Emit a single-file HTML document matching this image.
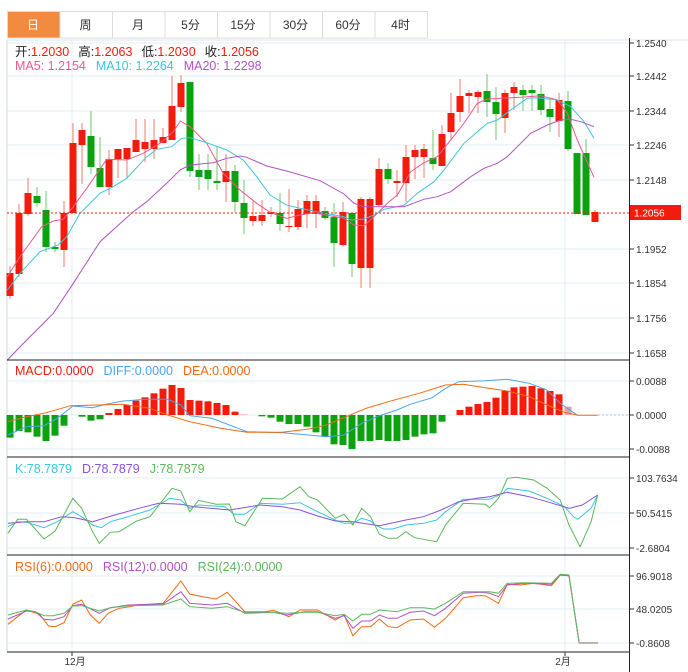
<!DOCTYPE html>
<html><head><meta charset="utf-8"><style>
body{margin:0;background:#fff;width:688px;height:672px;overflow:hidden;font-family:"Liberation Sans","Noto Sans CJK SC",sans-serif;}
svg{position:absolute;left:0;top:0}
</style></head><body>
<svg id="s" width="688" height="672" xmlns="http://www.w3.org/2000/svg" font-family="Liberation Sans, Noto Sans CJK SC, sans-serif"></svg>
<script>
var S=document.getElementById('s'),h='';
function L(x1,y1,x2,y2,c,w,extra){h+='<line x1="'+x1+'" y1="'+y1+'" x2="'+x2+'" y2="'+y2+'" stroke="'+c+'" stroke-width="'+(w||1)+'" '+(extra||'')+'/>';}
function R(x,y,w,hh,c){h+='<rect x="'+x+'" y="'+y+'" width="'+w+'" height="'+hh+'" fill="'+c+'"/>';}
function T(x,y,t,c,s,a){h+='<text x="'+x+'" y="'+y+'" fill="'+c+'" font-size="'+(s||11)+'" '+(a||'')+'>'+t+'</text>';}
function P(pts,c,fx,fy,ox,oy,w){var d=pts.map(function(p,i){return (i?'L':'M')+(ox+p[0]/fx).toFixed(1)+' '+(oy+p[1]/fy).toFixed(1)}).join(' ');h+='<path d="'+d+'" fill="none" stroke="'+c+'" stroke-width="'+(w||1)+'"/>';}
var tabs=['日','周','月','5分','15分','30分','60分','4时'];
for(var i=0;i<8;i++){var x=7+i*52.5;if(i==0)R(x,11,52.5,27,'#f28b3f');h+='<rect x="'+(x+0.5)+'" y="11.5" width="52.5" height="26.5" fill="none" stroke="#dcdcdc"/>';T(x+26,29,tabs[i],i==0?'#fff':'#333',12,'text-anchor="middle"');}
var gy=[43,76,111,145,180,249,283,318,353];
gy.forEach(function(y){L(7,y,630,y,'#e3edf3');});
[381,415,449,478,513,548,576,609,643].forEach(function(y){L(7,y,630,y,'#e3edf3');});
L(72,40,72,652,'#e3edf3');L(565,40,565,652,'#e3edf3');
L(7,40,688,40,'#dde6ee');
L(7,40,7,652,'#cfd8df');
var al=[[43,'1.2540'],[76,'1.2442'],[111,'1.2344'],[145,'1.2246'],[180,'1.2148'],[249,'1.1952'],[283,'1.1854'],[318,'1.1756'],[353,'1.1658'],[381,'0.0088'],[415,'0.0000'],[449,'-0.0088'],[478,'103.7634'],[513,'50.5415'],[548,'-2.6804'],[576,'96.9018'],[609,'48.0205'],[643,'-0.8608']];
al.forEach(function(a){L(630,a[0],634,a[0],'#333');T(636,a[0]+4,a[1],'#333',10);});
var C=[[273,296,266,299,1],[213,274,204,277,1],[193,214,178,216,1],[196,203,187,207,0],[210,247,191,252,0],[247,249,242,252,0],[213,250,201,267,1],[143,213,123,213,1],[130,145,123,184,1],[136,167,111,174,0],[168,187,137,187,0],[159,187,150,195,1],[149,159,149,178,1],[148,159,148,178,1],[140,152,119,152,1],[142,149,119,162,1],[140,149,119,159,1],[137,143,128,143,1],[106,140,76,140,1],[83,107,75,112,1],[82,171,82,177,0],[170,177,154,190,0],[170,179,154,190,0],[181,183,146,190,0],[171,182,154,202,1],[171,202,165,212,0],[203,218,180,234,0],[216,221,200,226,1],[215,221,200,226,1],[212,214,207,217,1],[213,224,193,231,0],[226,227,189,232,1],[209,227,200,230,1],[201,214,195,228,1],[201,214,195,228,1],[211,218,207,220,0],[217,243,203,267,0],[212,245,202,247,1],[213,264,213,277,0],[199,268,197,288,1],[199,268,197,288,1],[169,205,158,207,1],[169,179,163,184,0],[181,183,170,197,1],[157,183,145,202,1],[150,157,145,179,1],[149,157,144,178,1],[158,164,130,170,0],[134,166,125,166,1],[113,132,93,140,1],[96,112,79,122,1],[93,96,90,113,1],[92,97,90,113,1],[91,102,74,117,0],[102,114,87,140,0],[93,118,90,133,1],[87,93,82,110,1],[90,95,85,111,0],[90,93,85,111,0],[94,110,85,115,0],[109,117,100,132,0],[100,121,93,137,1],[101,149,91,151,0],[153,214,153,214,0],[153,215,139,215,0],[212,222,210,222,1]];
C.forEach(function(c,i){var x=10+9*i,col=c[4]?'#f31b0b':'#0ba10f',wc=c[4]?'#f77a70':'#6cc86e';L(x,c[2],x,c[3],wc);R(x-3.5,c[0],7,Math.max(1,c[1]-c[0]),col);});
P([[22,650],[60,590],[125,500],[160,483],[190,478],[220,440],[260,385],[320,298],[380,300],[430,280],[480,250],[520,215],[541,183],[570,200],[620,250],[670,340],[720,390],[770,430],[810,457],[860,475],[900,465],[940,458],[1032,475]],'#ee5a8c',3,3,0,60);
P([[0,475],[30,495],[60,497],[90,470],[130,430],[160,405],[200,335],[240,308],[280,290],[320,240],[360,190],[400,130],[430,117],[470,115],[530,112],[590,107],[640,120],[670,160],[700,240],[750,352]],'#ee5a8c',3,3,344,60);
P([[22,690],[60,640],[120,575],[175,555],[200,530],[240,460],[300,400],[340,380],[380,355],[440,290],[470,268],[515,260],[545,235],[570,233],[620,248],[680,270],[730,300],[770,350],[810,405],[860,435],[900,445],[950,455],[1032,470]],'#3cc6da',3,3,0,60);
P([[0,470],[20,480],[60,477],[90,465],[120,448],[180,436],[220,400],[270,365],[300,330],[360,250],[430,190],[460,180],[500,150],[550,115],[580,113],[640,120],[680,140],[720,185],[750,235]],'#3cc6da',3,3,344,60);
P([[22,900],[80,840],[160,760],[220,670],[300,545],[400,455],[440,425],[500,370],[540,330],[570,315],[640,308],[680,295],[720,288],[740,292],[800,318],[860,333],[960,362],[1032,402]],'#b152c6',3,3,0,60);
P([[0,402],[30,430],[60,440],[180,440],[240,418],[280,410],[320,395],[380,350],[420,325],[460,310],[490,290],[530,250],[560,220],[610,195],[650,180],[680,178],[710,185],[750,200]],'#b152c6',3,3,344,60);
L(7,213,630,213,'#f31b0b',1,'stroke-dasharray="2,2"');
R(630,205,51,15,'#f31b0b');T(634,216.5,'1.2056','#fff',10);
L(7,360,630,360,'#222');L(7,457,630,457,'#222');L(7,555,630,555,'#222');L(7,652,630,652,'#222');
L(629.5,38,629.5,672,'#222');
var M={0:248,1:228,2:232,3:245,4:258,5:242,6:212,8:185,9:197,10:193,11:174,12:162,13:150,14:137,15:127,16:115,17:101,18:90,19:99,20:135,21:137,22:139,23:144,24:150,25:170,26:178,28:184,29:188,30:200,31:207,32:207,33:215,34:232,35:245,36:268,37:270,38:282,39:258,40:258,41:255,42:258,43:258,44:255,45:245,46:238,47:235,48:200,50:165,51:155,52:147,53:141,54:128,55:108,56:97,57:95,58:93,59:100,60:108,61:118,62:155};
for(var k in M){var v=M[k],x=10+9*k,y=355+v/3;var col=v<181?(k==26||k==62?'#f4a0a0':'#f31b0b'):'#0ba10f';if(v<181)R(x-3.5,y,7,415-y,col);else R(x-3.5,415,7,y-415,col);}
P([[18,240],[60,215],[100,212],[130,190],[165,153],[210,158],[240,148],[280,138],[330,133],[380,133],[410,150],[430,182],[480,190],[530,215],[560,230],[640,233],[700,240],[740,245],[780,240],[820,205],[860,182],[900,165],[930,148],[980,128],[1010,100],[1040,80],[1100,77],[1150,73],[1200,85],[1240,105],[1270,145],[1310,182]],'#4aa3ee',2.267,3,0,355);
P([[18,200],[60,185],[100,175],[160,152],[220,150],[280,148],[340,160],[380,180],[430,200],[500,220],[560,232],[640,232],[700,222],[740,210],[790,182],[830,160],[880,140],[950,115],[1010,90],[1050,88],[1100,98],[1150,108],[1200,125],[1240,150],[1280,172],[1310,181],[1355,181]],'#f26a12',2.267,3,0,355);
L(598,415,630,415,'#9cc8ee',1,'stroke-dasharray="2,2"');
P([[18,215],[40,200],[60,202],[100,218],[130,200],[165,170],[185,185],[210,210],[230,218],[250,200],[290,185],[340,165],[385,130],[410,135],[430,160],[450,150],[510,155],[530,178],[555,178],[590,145],[640,148],[680,143],[720,170],[760,195],[780,205],[800,205],[820,190],[840,198],[850,210],[870,222],[890,222],[920,210],[960,205],[990,195],[1010,170],[1050,133],[1110,133],[1140,115],[1150,100],[1200,108],[1240,130],[1280,155],[1300,185],[1310,193],[1340,160],[1355,120]],'#3cc6da',2.267,3,0,455);
P([[18,205],[60,200],[100,200],[140,185],[170,188],[210,200],[260,180],[320,158],[360,145],[410,148],[440,155],[520,165],[590,150],[640,155],[680,165],[720,183],[760,198],[800,200],[860,212],[920,195],[960,185],[1000,165],[1040,140],[1080,130],[1110,125],[1150,112],[1200,125],[1240,140],[1290,160],[1320,150],[1355,120]],'#8a52d6',2.267,3,0,455);
P([[18,235],[40,193],[60,193],[100,252],[125,228],[165,130],[185,160],[210,230],[225,265],[250,232],[270,230],[310,198],[340,185],[390,100],[410,108],[430,170],[450,136],[490,148],[520,147],[535,200],[555,212],[595,130],[640,132],[680,95],[700,125],[720,135],[760,190],[780,178],[800,210],[820,160],[840,185],[860,238],[880,250],[900,250],[920,230],[940,248],[990,260],[1010,210],[1050,145],[1100,148],[1110,158],[1130,130],[1150,70],[1170,67],[1210,75],[1240,100],[1270,135],[1290,210],[1315,275],[1340,200],[1355,120]],'#5cb85c',2.267,3,0,455);
P([[18,208],[40,185],[60,165],[90,178],[110,213],[125,215],[145,203],[165,148],[185,135],[205,180],[225,205],[245,175],[270,160],[295,155],[310,150],[370,145],[410,78],[430,117],[460,125],[490,132],[515,112],[555,170],[600,170],[620,166],[655,185],[680,165],[720,165],[760,195],[780,180],[800,242],[820,215],[840,215],[860,192],[880,215],[900,218],[930,195],[960,192],[985,217],[1010,190],[1030,160],[1050,128],[1080,122],[1100,122],[1130,145],[1150,88],[1180,90],[1210,85],[1250,92],[1270,60],[1290,62],[1313,265]],'#f26a12',2.267,3,0,555);
P([[18,192],[60,168],[80,170],[100,193],[120,195],[145,185],[165,152],[185,148],[225,175],[250,158],[290,150],[370,147],[410,110],[430,145],[480,150],[515,145],[555,175],[620,172],[650,180],[690,170],[720,170],[760,190],[780,182],[800,220],[820,198],[840,198],[860,180],[880,190],[900,190],[930,172],[960,168],[985,182],[1010,160],[1050,115],[1090,112],[1110,115],[1130,125],[1150,90],[1190,85],[1250,88],[1270,60],[1290,62],[1313,265]],'#b152c6',2.267,3,0,555);
P([[18,180],[60,165],[80,170],[100,182],[120,182],[145,175],[165,153],[185,152],[225,168],[250,158],[290,152],[370,150],[410,132],[430,155],[480,160],[515,155],[555,172],[620,172],[650,175],[690,172],[720,172],[760,182],[780,178],[800,198],[820,178],[840,178],[860,165],[900,170],[930,158],[960,158],[985,162],[1010,145],[1050,110],[1110,110],[1130,115],[1150,85],[1190,83],[1250,85],[1270,58],[1290,60],[1313,265]],'#5cb85c',2.267,3,0,555);
L(579,643,598,643,'#b8b8a8',2);
L(72,652,72,656,'#333');L(565,652,565,656,'#333');
T(75,665,'12月','#333',10,'text-anchor="middle"');T(563,665,'2月','#333',10,'text-anchor="middle"');
h+='<text x="15" y="56" font-size="12.5"><tspan fill="#222">开:</tspan><tspan fill="#f31b0b">1.2030</tspan><tspan fill="#222" dx="9">高:</tspan><tspan fill="#f31b0b">1.2063</tspan><tspan fill="#222" dx="9">低:</tspan><tspan fill="#f31b0b">1.2030</tspan><tspan fill="#222" dx="9">收:</tspan><tspan fill="#f31b0b">1.2056</tspan></text>';
h+='<text x="15" y="70" font-size="12.5"><tspan fill="#ee5a8c">MA5: 1.2154</tspan><tspan fill="#3cc6da" dx="10">MA10: 1.2264</tspan><tspan fill="#b152c6" dx="10">MA20: 1.2298</tspan></text>';
h+='<text x="15" y="375" font-size="12.5"><tspan fill="#f31b0b">MACD:0.0000</tspan><tspan fill="#4aa3ee" dx="10">DIFF:0.0000</tspan><tspan fill="#f26a12" dx="10">DEA:0.0000</tspan></text>';
h+='<text x="15" y="473" font-size="12.5"><tspan fill="#3cc6da">K:78.7879</tspan><tspan fill="#8a52d6" dx="10">D:78.7879</tspan><tspan fill="#5cb85c" dx="10">J:78.7879</tspan></text>';
h+='<text x="15" y="571" font-size="12.5"><tspan fill="#f26a12">RSI(6):0.0000</tspan><tspan fill="#b152c6" dx="10">RSI(12):0.0000</tspan><tspan fill="#5cb85c" dx="10">RSI(24):0.0000</tspan></text>';
S.innerHTML=h;
</script>
</body></html>
